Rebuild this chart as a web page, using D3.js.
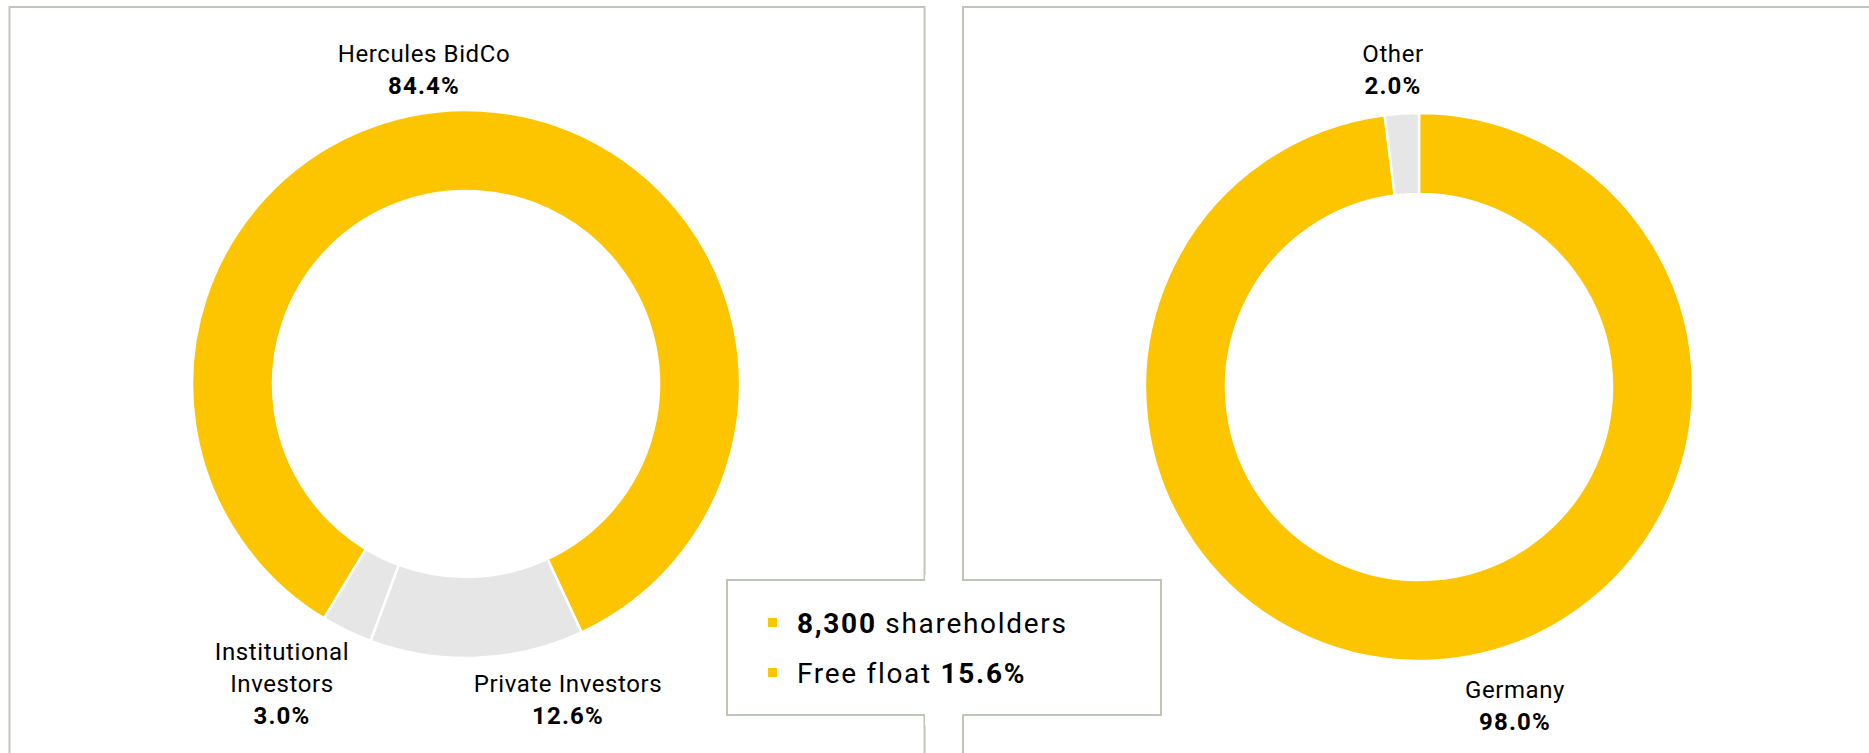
<!DOCTYPE html>
<html lang="en">
<head>
<meta charset="UTF-8">
<title>Shareholder structure</title>
<script src="https://d3js.org/d3.v7.min.js"></script>
<style>
  body { margin: 0; background: #fff; }
  text { font-family: Roboto, "Noto Sans", sans-serif; fill: #000; }
</style>
</head>
<body>
<svg id="chart" width="1869" height="753"></svg>
<script>
// shareholder structure (left donut), clockwise order
const ownerNames = ["Hercules BidCo", "Private Investors", "Institutional\nInvestors"];
const ownerShares = [84.4, 12.6, 3.0];
// regional split (right donut)
const regionNames = ["Germany", "Other"];
const regionShares = [98.0, 2.0];
// key figures box
const shareholderCount = "8,300";
const freeFloat = 15.6;

const YELLOW = "#fdc400", GREY = "#e6e6e6", FRAME = "#bfc5bb";
const svg = d3.select("#chart");
const fmt = d => d.toFixed(1) + "%";

// frames
svg.append("rect").attr("x", 9.5).attr("y", 7).attr("width", 915).attr("height", 800)
    .attr("fill", "none").attr("stroke", FRAME).attr("stroke-width", 2);
svg.append("rect").attr("x", 963).attr("y", 7).attr("width", 1000).attr("height", 800)
    .attr("fill", "none").attr("stroke", FRAME).attr("stroke-width", 2);

// DONUT HELPER
function donut(cx, cy, names, values, colors, startDeg, labels) {
    const a0 = startDeg * Math.PI / 180;
    const pie = d3.pie().sort(null).value(d => d).startAngle(a0).endAngle(a0 + 2 * Math.PI);
    const arc = d3.arc().innerRadius(193).outerRadius(274);
    const g = svg.append("g").attr("transform", `translate(${cx},${cy})`);
    g.selectAll("path").data(pie(values)).enter().append("path")
        .attr("d", arc)
        .attr("fill", (d, i) => colors[i])
        .attr("stroke", "#fff").attr("stroke-width", 2.5);

    names.forEach((n, i) => {
        const lines = n.split("\n");
        const t = svg.append("text").attr("text-anchor", "middle")
            .attr("font-size", 24).attr("letter-spacing", 0.6);
        lines.forEach((ln, j) => {
            t.append("tspan").attr("x", labels[i][0]).attr("y", labels[i][1] + j * 32).text(ln);
        });
        t.append("tspan").attr("x", labels[i][0]).attr("y", labels[i][1] + lines.length * 32)
            .attr("font-weight", "bold").attr("letter-spacing", 1.2).text(fmt(values[i]));
    });
}

donut(466, 384, ownerNames, ownerShares, [YELLOW, GREY, GREY], -148.8,
    [[424, 62], [568, 692], [282, 660]]);
donut(1419, 387, regionNames, regionShares, [YELLOW, GREY], 0,
    [[1515, 698], [1393, 62]]);

// KEY FIGURES BOX
svg.append("rect").attr("x", 727).attr("y", 580).attr("width", 434).attr("height", 135)
    .attr("fill", "#fff").attr("stroke", FRAME).attr("stroke-width", 2);
// open the box where the gap between the two frames runs through it
svg.append("rect").attr("x", 925).attr("y", 575).attr("width", 37).attr("height", 150)
    .attr("fill", "#fff");

const items = [
    [{ t: shareholderCount, b: true }, { t: " shareholders", b: false }],
    [{ t: "Free float ", b: false }, { t: fmt(freeFloat), b: true }]
];
items.forEach((parts, i) => {
    const y = 633 + i * 50;
    svg.append("rect").attr("x", 768).attr("y", y - 15).attr("width", 9).attr("height", 9)
        .attr("fill", YELLOW);
    const t = svg.append("text").attr("x", 797).attr("y", y)
        .attr("font-size", 28).attr("letter-spacing", 1.7);
    parts.forEach(p => t.append("tspan").attr("font-weight", p.b ? "bold" : "normal")
        .attr("xml:space", "preserve").style("white-space", "pre").text(p.t));
});
</script>
</body>
</html>
